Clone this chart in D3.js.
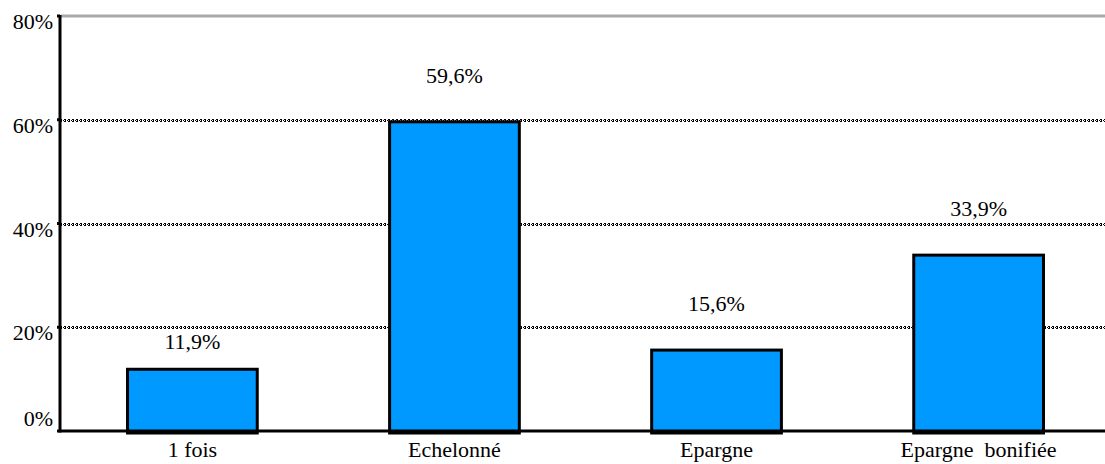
<!DOCTYPE html>
<html><head><meta charset="utf-8"><script src="https://cdn.jsdelivr.net/npm/d3@7"></script></head>
<body style="margin:0">
<svg id="svg" width="1105" height="464"></svg>
<script>
// DATA
const categories = ["1 fois", "Echelonné", "Epargne", "Epargne\u00a0 bonifiée"];
const values = [11.9, 59.6, 15.6, 33.9];
const valueLabels = ["11,9%", "59,6%", "15,6%", "33,9%"];
const yTicks = [0, 20, 40, 60, 80];

// VARIABLES
const width = 1105, height = 464;
const svg = d3.select("#svg");

const x = d3.scaleBand()
  .domain(categories)
  .range([62, 1109])
  .paddingInner(0.505)
  .paddingOuter(0.25);

const y = d3.scaleLinear().domain([0, 80]).range([431, 16]);

// checkered grid lines: two offset dashed rows
const grid = svg.append("g");
const gridVals = yTicks.filter(d => d > 0 && d < 80);
[[-1, 1], [0, 3], [1, 1]].forEach(([dy, off]) => {
  grid.selectAll(null)
    .data(gridVals)
    .enter()
    .append("line")
    .attr("x1", 61).attr("x2", width)
    .attr("y1", d => Math.round(y(d)) + dy + 0.5)
    .attr("y2", d => Math.round(y(d)) + dy + 0.5)
    .attr("stroke", "#000")
    .attr("stroke-width", 1)
    .attr("stroke-dasharray", dy === 0 ? "1,1" : "2,2")
    .attr("stroke-dashoffset", dy === 0 ? 0 : off);
});

// top line
svg.append("line")
  .attr("x1", 61).attr("x2", width)
  .attr("y1", y(80)).attr("y2", y(80))
  .attr("stroke", "#aaa").attr("stroke-width", 3);

// bars
svg.append("g")
  .selectAll("rect")
  .data(values)
  .enter()
  .append("rect")
  .attr("x", (d, i) => x(categories[i]))
  .attr("y", d => y(d))
  .attr("width", x.bandwidth())
  .attr("height", d => y(0) - y(d) + 2)
  .attr("fill", "#0099ff")
  .attr("stroke", "#000")
  .attr("stroke-width", 3);

// x axis baseline
svg.append("line")
  .attr("x1", 60).attr("x2", width)
  .attr("y1", y(0)).attr("y2", y(0))
  .attr("stroke", "#000").attr("stroke-width", 3);

// y axis line and ticks
svg.append("line")
  .attr("x1", 60).attr("x2", 60)
  .attr("y1", y(80) - 1).attr("y2", y(0) + 1.5)
  .attr("stroke", "#000").attr("stroke-width", 3);
svg.selectAll(null)
  .data(yTicks)
  .enter()
  .append("line")
  .attr("x1", 57).attr("x2", 60)
  .attr("y1", d => y(d)).attr("y2", d => y(d))
  .attr("stroke", "#000").attr("stroke-width", 3);

// tick labels
svg.selectAll(null)
  .data(yTicks)
  .enter()
  .append("text")
  .attr("x", 53)
  .attr("y", d => y(d) + (d === 0 ? -5 : 13))
  .attr("text-anchor", "end")
  .style("font-family", '"Liberation Serif"')
  .style("font-size", "22px")
  .text(d => d + "%");

// x labels
svg.selectAll(null)
  .data(categories)
  .enter()
  .append("text")
  .attr("x", d => x(d) + x.bandwidth() / 2)
  .attr("y", 457)
  .attr("text-anchor", "middle")
  .style("font-family", '"Liberation Serif"')
  .style("font-size", "22px")
  .text(d => d);

// value labels, nudged down when they would sit on a grid line
svg.selectAll(null)
  .data(values)
  .enter()
  .append("text")
  .attr("x", (d, i) => x(categories[i]) + x.bandwidth() / 2)
  .attr("y", d => {
    let off = 9;
    if (yTicks.some(t => Math.abs(t - (d + off)) < 2.5)) off = 5.4;
    return y(d + off) + 8;
  })
  .attr("text-anchor", "middle")
  .style("font-family", '"Liberation Serif"')
  .style("font-size", "22px")
  .text((d, i) => valueLabels[i]);
</script>
</body></html>
